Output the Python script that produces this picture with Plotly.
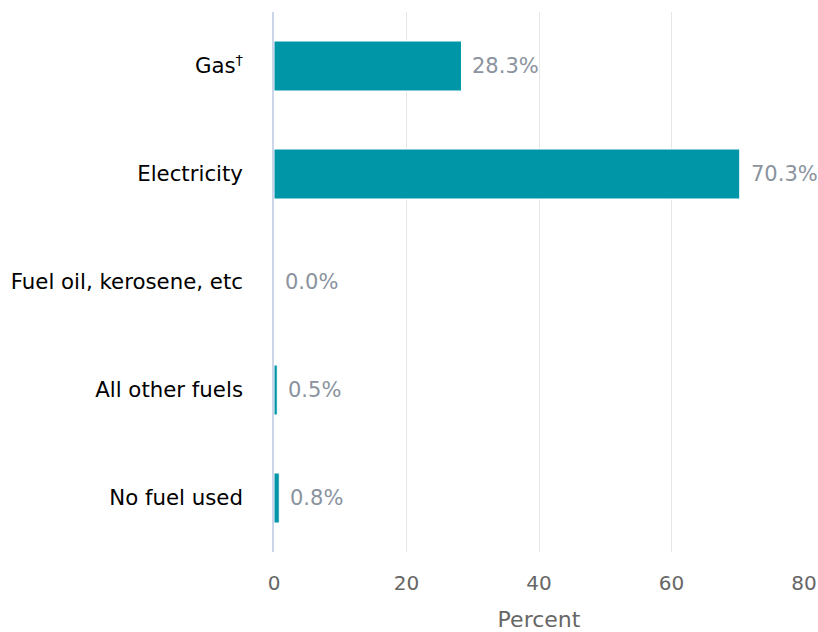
import plotly.graph_objects as go

categories = ["Gas<sup>†</sup>", "Electricity", "Fuel oil, kerosene, etc", "All other fuels", "No fuel used"]
values = [28.3, 70.3, 0.0, 0.5, 0.8]
labels = ["28.3%", "70.3%", "0.0%", "0.5%", "0.8%"]
tick_vals = [0, 20, 40, 60, 80]

FONT = "DejaVu Sans"

fig = go.Figure()
fig.add_trace(go.Bar(
    x=values, y=categories, orientation="h",
    marker=dict(color="#0096a8", line=dict(color="#ffffff", width=1)),
    hoverinfo="skip",
))

for c, v, t in zip(categories, values, labels):
    fig.add_annotation(x=v, y=c, text=t, xanchor="left", yanchor="middle",
                       showarrow=False, xshift=9,
                       font=dict(family=FONT, size=21, color="#8a939e"))

fig.update_layout(
    width=818, height=632,
    margin=dict(l=274, r=14, t=12, b=80, autoexpand=False),
    paper_bgcolor="white", plot_bgcolor="white",
    bargap=0.537,
    showlegend=False,
    font=dict(family=FONT, size=20, color="#000000"),
    xaxis=dict(
        range=[0, 80], tickvals=tick_vals,
        showgrid=True, gridcolor="#e6e6e6", gridwidth=1,
        zeroline=False, showline=False,
        tickfont=dict(family=FONT, size=20, color="#666666"),
        ticklabelstandoff=17,
        automargin=False,
        title=dict(text="Percent", font=dict(family=FONT, size=22, color="#666666"), standoff=18),
        fixedrange=True,
    ),
    yaxis=dict(
        autorange="reversed",
        showline=True, linecolor="#ccd6eb", linewidth=1.5,
        showgrid=False, zeroline=False,
        tickfont=dict(family=FONT, size=21.3, color="#000000"),
        ticklabelstandoff=25,
        automargin=False,
        fixedrange=True,
    ),
)

post = "document.body.style.margin='0';document.body.style.overflow='hidden';"
fig.write_html("out.html", post_script=post, config={"displayModeBar": False})
